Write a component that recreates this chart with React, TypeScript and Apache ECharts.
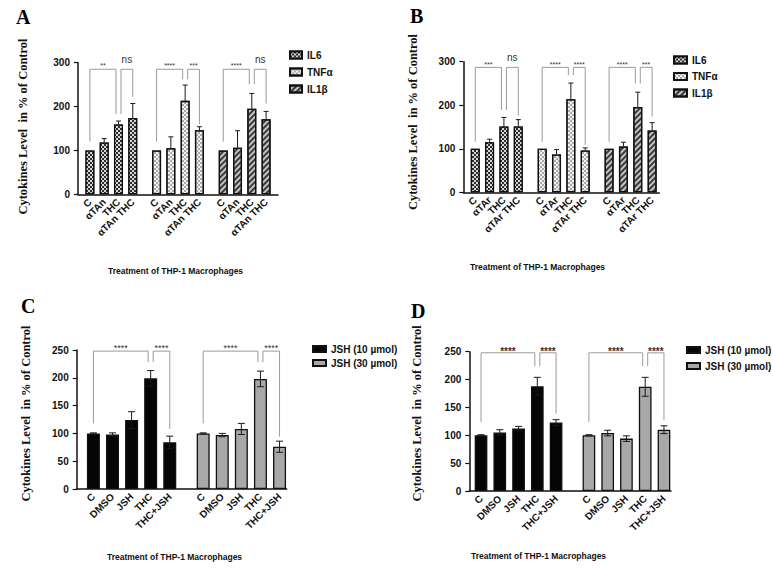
import React, { useEffect, useRef } from 'react';
import * as echarts from 'echarts';

// ---- panel A (αTAn) ----
const aCategories = ['C', 'αTAn', 'THC', 'αTAn THC'];
const aIL6 = [100, 118, 159, 174];
const aIL6Err = [0, 9, 8, 33];
const aTNF = [100, 105, 213, 146];
const aTNFErr = [0, 26, 36, 8];
const aIL1b = [100, 106, 195, 171];
const aIL1bErr = [0, 39, 35, 18];
const aSig = ['**', 'ns', '****', '***', '****', 'ns'];
// [left foot, right foot, top] in % of control
const aBrackets = [
  [120, 183, 285], [183, 222, 285],
  [120, 262, 285], [262, 160, 285],
  [120, 251, 285], [251, 207, 285],
];

// ---- panel B (αTAr) ----
const bCategories = ['C', 'αTAr', 'THC', 'αTAr THC'];
const bIL6 = [100, 115, 151, 151];
const bIL6Err = [0, 7, 21, 16];
const bTNF = [100, 87, 214, 96];
const bTNFErr = [0, 11, 37, 6];
const bIL1b = [100, 105, 196, 142];
const bIL1bErr = [0, 10, 34, 18];
const bSig = ['***', 'ns', '****', '****', '****', '***'];
const bBrackets = [
  [116, 189, 287], [189, 177, 287],
  [116, 269, 287], [269, 109, 287],
  [116, 250, 287], [250, 174, 287],
];

// ---- panel C ----
const cCategories = ['C', 'DMSO', 'JSH', 'THC', 'THC+JSH'];
const cJSH10 = [100, 98, 124, 199, 84];
const cJSH10Err = [1, 3, 15, 14, 11];
const cJSH30 = [100, 97, 108, 198, 76];
const cJSH30Err = [1, 3, 10, 14, 10];
const cSig = ['****', '****', '****', '****'];
const cBrackets = [
  [118, 228, 248], [228, 108, 248],
  [118, 228, 248], [228, 94, 248],
];

// ---- panel D ----
const dCategories = ['C', 'DMSO', 'JSH', 'THC', 'THC+JSH'];
const dJSH10 = [100, 105, 112, 188, 123];
const dJSH10Err = [1, 5, 4, 16, 5];
const dJSH30 = [100, 104, 94, 187, 110];
const dJSH30Err = [1, 5, 5, 17, 7];
const dSig = ['****', '****', '****', '****'];
const dBrackets = [
  [124, 224, 248], [224, 139, 248],
  [124, 224, 248], [224, 127, 248],
];

const cytokineNames = ['IL6', 'TNFα', 'IL1β'];
const jshNames = ['JSH (10 µmol)', 'JSH (30 µmol)'];
const yTitle = 'Cytokines Level  in % of Control';
const xTitle = 'Treatment of THP-1 Macrophages';

const SANS = '"Liberation Sans", Arial, sans-serif';
const SERIF = '"Liberation Serif", "Times New Roman", serif';

const il6Style = {
  color: '#2e2e2e',
  decal: { symbol: 'rect', symbolSize: 1, color: '#d6d6d6', dashArrayX: [[2, 2], [0, 2, 2, 0]], dashArrayY: [2, 0] },
};
const tnfStyle = {
  color: '#f2f2f2',
  decal: { symbol: 'circle', symbolSize: 0.9, color: '#8f8f8f', dashArrayX: [[2, 2], [0, 2, 2, 0]], dashArrayY: [2, 0] },
};
const il1bStyle = {
  color: '#c4c4c4',
  decal: { symbol: 'rect', symbolSize: 1, color: '#3a3a3a', dashArrayX: [1, 0], dashArrayY: [2, 2], rotation: -Math.PI / 4 },
};
const black = { color: '#050505' };
const gray = { color: '#a8a8a8' };

const panels: any[] = [
  {
    grid: { left: 78, top: 62.7, width: 200, height: 131.6 },
    nCat: 42, first: 2, groupStep: 14, barStep: 3,
    labels: aCategories, names: cytokineNames,
    values: [aIL6, aTNF, aIL1b], errs: [aIL6Err, aTNFErr, aIL1bErr],
    styles: [il6Style, tnfStyle, il1bStyle],
    brackets: aBrackets, sig: aSig, pairs: [[0, 2], [2, 3]],
    yMax: 300, yStep: 100, barWidth: 9, cap: 5, bothErr: false,
    sigFont: 7, sigWeight: 'normal', starOff: 5.3, nsOff: 10,
    xTitleAt: [108, 266], yNameGap: 49, yNameShift: 2,
  },
  {
    grid: { left: 463.3, top: 61.7, width: 196, height: 130.6 },
    nCat: 41, first: 2, groupStep: 14, barStep: 3,
    labels: bCategories, names: cytokineNames,
    values: [bIL6, bTNF, bIL1b], errs: [bIL6Err, bTNFErr, bIL1bErr],
    styles: [il6Style, tnfStyle, il1bStyle],
    brackets: bBrackets, sig: bSig, pairs: [[0, 2], [2, 3]],
    yMax: 300, yStep: 100, barWidth: 9, cap: 5, bothErr: false,
    sigFont: 7, sigWeight: 'normal', starOff: 5.3, nsOff: 10,
    xTitleAt: [470, 262], yNameGap: 44, yNameShift: 5,
  },
  {
    grid: { left: 76.7, top: 350, width: 210, height: 139 },
    nCat: 44, first: 3, groupStep: 23, barStep: 4,
    labels: cCategories, names: jshNames,
    values: [cJSH10, cJSH30], errs: [cJSH10Err, cJSH30Err],
    styles: [black, gray],
    brackets: cBrackets, sig: cSig, pairs: [[0, 3], [3, 4]],
    yMax: 250, yStep: 50, barWidth: 13, cap: 7, bothErr: true,
    sigFont: 9, sigWeight: 'normal', starOff: 5.3, nsOff: 10,
    xTitleAt: [107, 552], yNameGap: 44, yNameShift: 6,
  },
  {
    grid: { left: 469.3, top: 351.7, width: 201.7, height: 139.3 },
    nCat: 43, first: 2, groupStep: 23, barStep: 4,
    labels: dCategories, names: jshNames,
    values: [dJSH10, dJSH30], errs: [dJSH10Err, dJSH30Err],
    styles: [black, gray],
    brackets: dBrackets, sig: dSig, pairs: [[0, 3], [3, 4]],
    yMax: 250, yStep: 50, barWidth: 12.7, cap: 7, bothErr: true,
    sigFont: 10, sigWeight: 'bold', starOff: 4.4, nsOff: 10,
    xTitleAt: [471, 551], yNameGap: 46, yNameShift: 8,
  },
];

function buildOption() {
  const grid: any[] = [];
  const xAxis: any[] = [];
  const yAxis: any[] = [];
  const series: any[] = [];

  panels.forEach((p, k) => {
    const pos = (g: number, i: number) => p.first + g * p.groupStep + i * p.barStep;
    const labelAt: Record<number, string> = {};
    p.values.forEach((vals: number[], g: number) =>
      vals.forEach((_v, i) => { labelAt[pos(g, i)] = p.labels[i]; }));
    const isBar = (i: number) => labelAt[i] !== undefined;
    const ids = Array.from({ length: p.nCat }, (_, i) => 'c' + i);

    grid.push({ ...p.grid, containLabel: false });
    xAxis.push({
      type: 'category', gridIndex: k, data: ids,
      axisLine: { lineStyle: { color: '#111', width: 1.5 } },
      axisTick: { alignWithLabel: true, interval: isBar, length: 4, lineStyle: { color: '#111', width: 1.2 } },
      axisLabel: {
        interval: isBar, rotate: 45, margin: 6,
        formatter: (_v: string, i: number) => labelAt[i] || '',
        fontFamily: SANS, fontWeight: 'bold', fontSize: 10, color: '#111',
      },
    });
    yAxis.push({
      type: 'value', gridIndex: k, min: 0, max: p.yMax, interval: p.yStep,
      splitLine: { show: false },
      axisLine: { show: true, lineStyle: { color: '#111', width: 1.5 } },
      axisTick: { show: true, length: 4, lineStyle: { color: '#111', width: 1.2 } },
      axisLabel: { fontFamily: SANS, fontWeight: 'bold', fontSize: 10, color: '#111', margin: 8 },
      name: yTitle, nameLocation: 'middle', nameGap: p.yNameGap,
      nameTextStyle: {
        fontFamily: SERIF, fontWeight: 'bold', fontSize: 12.5, color: '#111',
        padding: [0, 0, 0, p.yNameShift * 2],
      },
    });

    p.values.forEach((vals: number[], g: number) => {
      const data: any[] = ids.map(() => '-');
      vals.forEach((v, i) => { data[pos(g, i)] = v; });
      series.push({
        type: 'bar', name: p.names[g], xAxisIndex: k, yAxisIndex: k,
        barWidth: p.barWidth, barGap: '-100%',
        itemStyle: { ...p.styles[g], borderColor: '#111', borderWidth: 1.3 },
        data,
      });
    });

    // error bars (upward only where the hatch hides the lower whisker)
    const errData: number[][] = [];
    p.values.forEach((vals: number[], g: number) =>
      vals.forEach((v, i) => {
        const e = p.errs[g][i];
        if (e > 0) errData.push([pos(g, i), v, e]);
      }));
    series.push({
      type: 'custom', xAxisIndex: k, yAxisIndex: k, z: 4,
      encode: { x: 0, y: 1 },
      data: errData,
      renderItem: (_params: any, api: any) => {
        const x = api.value(0);
        const v = api.value(1);
        const e = api.value(2);
        const hi = api.coord([x, v + e]);
        const lo = api.coord([x, p.bothErr ? v - e : v]);
        const st = { stroke: '#1a1a1a', lineWidth: 1 };
        const children: any[] = [
          { type: 'line', shape: { x1: hi[0], y1: hi[1], x2: lo[0], y2: lo[1] }, style: st },
          { type: 'line', shape: { x1: hi[0] - p.cap / 2, y1: hi[1], x2: hi[0] + p.cap / 2, y2: hi[1] }, style: st },
        ];
        if (p.bothErr) {
          children.push({ type: 'line', shape: { x1: lo[0] - p.cap / 2, y1: lo[1], x2: lo[0] + p.cap / 2, y2: lo[1] }, style: st });
        }
        return { type: 'group', children };
      },
    });

    // significance brackets
    const brData = p.brackets.map((b: number[], j: number) => {
      const g = Math.floor(j / 2);
      const pair = p.pairs[j % 2];
      return [pos(g, pair[0]), pos(g, pair[1]), b[0], b[1], b[2]];
    });
    series.push({
      type: 'custom', xAxisIndex: k, yAxisIndex: k, z: 4,
      encode: { x: [0, 1], y: [2, 3, 4] },
      data: brData,
      renderItem: (params: any, api: any) => {
        const j = params.dataIndex;
        const shift = j % 2 === 0 ? [0, -2.5] : [2.5, 0];
        const p1 = api.coord([api.value(0), api.value(2)]);
        const p2 = api.coord([api.value(1), api.value(3)]);
        const top = api.coord([api.value(0), api.value(4)])[1];
        const l = p1[0] + shift[0];
        const r = p2[0] + shift[1];
        const label = p.sig[j];
        const star = label !== 'ns';
        const f = star ? p.sigFont : 10;
        const cy = top - (star ? p.starOff : p.nsOff) + (star ? 0.28 * f : 0);
        return {
          type: 'group',
          children: [
            {
              type: 'polyline',
              shape: { points: [[l, p1[1]], [l, top], [r, top], [r, p2[1]]] },
              style: { stroke: '#9a9a9a', lineWidth: 1, fill: null },
            },
            {
              type: 'text',
              style: {
                text: label, x: (l + r) / 2, y: cy, align: 'center', verticalAlign: 'middle',
                fontFamily: SANS, fontSize: f, fontWeight: star ? p.sigWeight : 'normal', fill: '#333',
              },
            },
          ],
        };
      },
    });
  });

  const legendBase = {
    orient: 'vertical', icon: 'rect', padding: 0, selectedMode: false,
    textStyle: { fontFamily: SANS, fontWeight: 'bold', fontSize: 10, color: '#111' },
  };
  const letterText = { fontFamily: SERIF, fontSize: 20, fontWeight: 'bold', color: '#000' };
  const xTitleText = { fontFamily: SANS, fontSize: 8.5, fontWeight: 'bold', color: '#111' };

  return {
    animation: false,
    backgroundColor: '#fff',
    title: [
      { text: 'A', left: 16, top: 7, padding: 0, textStyle: letterText },
      { text: 'B', left: 410, top: 6, padding: 0, textStyle: letterText },
      { text: 'C', left: 21, top: 296, padding: 0, textStyle: letterText },
      { text: 'D', left: 411, top: 301, padding: 0, textStyle: letterText },
      ...panels.map((p) => ({
        text: xTitle, left: p.xTitleAt[0], top: p.xTitleAt[1], padding: 0, textStyle: xTitleText,
      })),
    ],
    legend: [
      { ...legendBase, data: cytokineNames, left: 289, top: 50, itemWidth: 12, itemHeight: 7, itemGap: 7 },
      { ...legendBase, data: cytokineNames, left: 673, top: 55, itemWidth: 13, itemHeight: 7, itemGap: 6.5 },
      { ...legendBase, data: jshNames, left: 312, top: 344, itemWidth: 13, itemHeight: 6, itemGap: 4 },
      { ...legendBase, data: jshNames, left: 686, top: 345, itemWidth: 13, itemHeight: 6, itemGap: 6 },
    ],
    grid, xAxis, yAxis, series,
  };
}

const App: React.FC = () => {
  const chartRef = useRef<HTMLDivElement | null>(null);

  useEffect(() => {
    if (!chartRef.current) return;
    const chart = echarts.init(chartRef.current, undefined, { renderer: 'svg' });
    chart.setOption(buildOption() as any);
    return () => {
      chart.dispose();
    };
  }, []);

  return (
    <div
      ref={chartRef}
      style={{ position: 'fixed', left: 0, top: 0, width: '773px', height: '571px', background: '#fff' }}
    />
  );
};

export default App;
